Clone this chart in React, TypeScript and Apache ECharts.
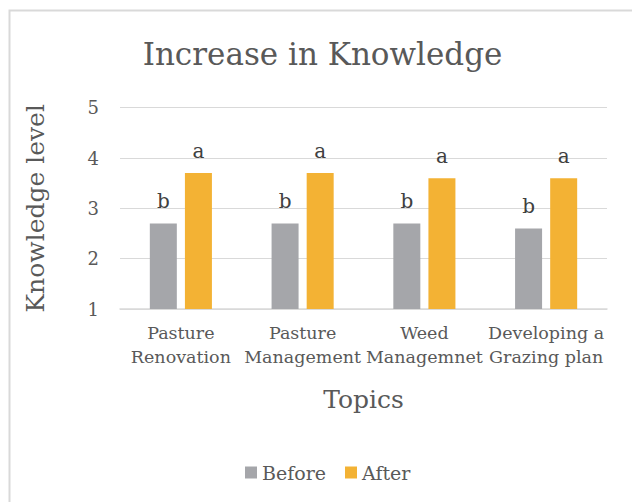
import React, { useEffect, useRef } from "react";
import * as echarts from "echarts";

const categories = [
  "Pasture\nRenovation",
  "Pasture\nManagement",
  "Weed\nManagemnet",
  "Developing a\nGrazing plan",
];
const beforeValues = [2.7, 2.7, 2.7, 2.6];
const afterValues = [3.7, 3.7, 3.6, 3.6];
const beforeLetters = ["b", "b", "b", "b"];
const afterLetters = ["a", "a", "a", "a"];
const yTicks = [1, 2, 3, 4, 5];

const FONT = "DejaVu Serif";
const TXT = "#595959";

export default function App() {
  const ref = useRef<HTMLDivElement>(null);
  useEffect(() => {
    if (!ref.current) return;
    const chart = echarts.init(ref.current, undefined, { renderer: "svg" });
    chart.setOption({
      animation: false,
      backgroundColor: "#ffffff",
      textStyle: { fontFamily: FONT, color: TXT },
      graphic: [
        {
          type: "rect",
          shape: { x: 9.5, y: 10.5, width: 700, height: 700 },
          style: { fill: "none", stroke: "#d9d9d9", lineWidth: 2 },
          silent: true,
        },
        {
          type: "text",
          x: 322.5,
          y: 54,
          style: {
            text: "Increase in Knowledge",
            font: `31px '${FONT}'`,
            fill: TXT,
            textAlign: "center",
            textVerticalAlign: "middle",
          },
        },
      ],
      legend: {
        left: 240,
        top: 458,
        itemWidth: 12,
        itemHeight: 12,
        itemGap: 19,
        icon: "rect",
        textStyle: { fontFamily: FONT, fontSize: 19, color: TXT },
        data: ["Before", "After"],
      },
      grid: { left: 120, right: 25, top: 107.7, bottom: 193, containLabel: false },
      xAxis: {
        type: "category",
        data: categories,
        name: "Topics",
        nameLocation: "middle",
        nameGap: 78,
        nameTextStyle: { fontFamily: FONT, fontSize: 25, color: TXT },
        axisLine: { lineStyle: { color: "#d9d9d9", width: 1.5 } },
        axisTick: { show: false },
        axisLabel: {
          fontFamily: FONT,
          fontSize: 17.5,
          lineHeight: 24,
          color: TXT,
          margin: 12,
          interval: 0,
        },
      },
      yAxis: {
        type: "value",
        min: yTicks[0],
        max: yTicks[yTicks.length - 1],
        interval: 1,
        name: "Knowledge level",
        nameLocation: "middle",
        nameGap: 72,
        nameTextStyle: { fontFamily: FONT, fontSize: 25, color: TXT },
        axisLine: { show: false },
        axisTick: { show: false },
        axisLabel: { fontFamily: FONT, fontSize: 18, color: TXT, margin: 21 },
        splitLine: { lineStyle: { color: "#d9d9d9", width: 1 } },
      },
      series: [
        {
          name: "Before",
          type: "bar",
          data: beforeValues,
          barWidth: 27,
          barGap: "30%",
          itemStyle: { color: "#a5a6aa" },
          label: {
            show: true,
            position: "top",
            distance: 12,
            fontFamily: FONT,
            fontSize: 20,
            color: "#404040",
            formatter: (p: any) => beforeLetters[p.dataIndex],
          },
        },
        {
          name: "After",
          type: "bar",
          data: afterValues,
          barWidth: 27,
          barGap: "30%",
          itemStyle: { color: "#f3b234" },
          label: {
            show: true,
            position: "top",
            distance: 12,
            fontFamily: FONT,
            fontSize: 20,
            color: "#404040",
            formatter: (p: any) => afterLetters[p.dataIndex],
          },
        },
      ],
    });
    return () => chart.dispose();
  }, []);
  return (
    <div
      ref={ref}
      style={{ position: "fixed", left: 0, top: 0, width: 632, height: 502 }}
    />
  );
}
